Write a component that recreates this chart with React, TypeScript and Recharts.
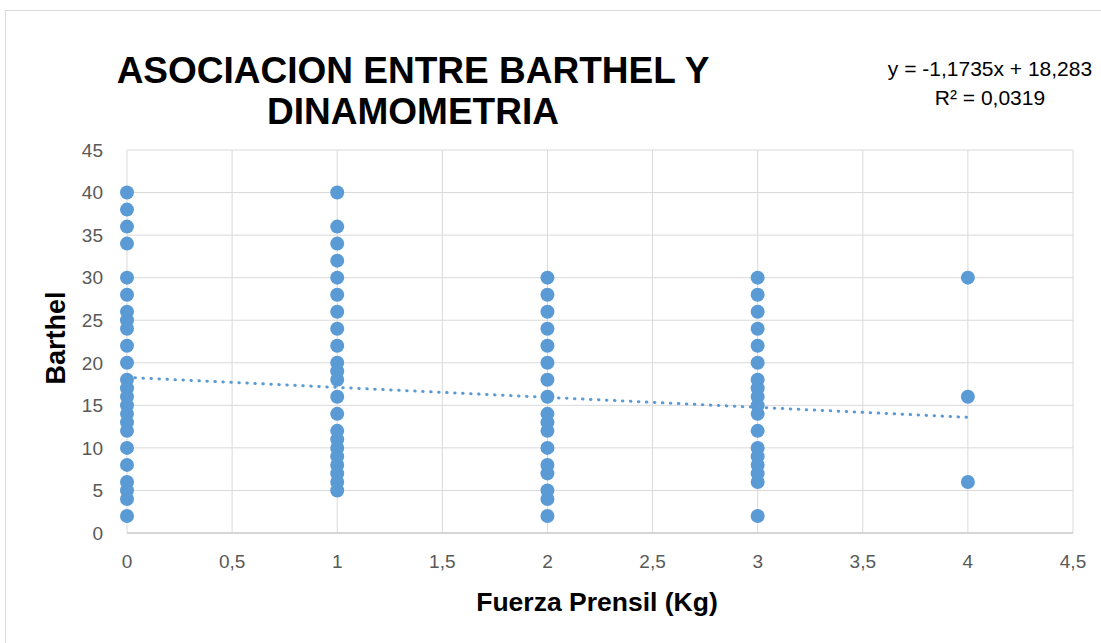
import React from 'react';
import { ScatterChart, Scatter, XAxis, YAxis, CartesianGrid } from 'recharts';

const xTicks = [0, 0.5, 1, 1.5, 2, 2.5, 3, 3.5, 4, 4.5];
const yTicks = [0, 5, 10, 15, 20, 25, 30, 35, 40, 45];

const barthelAt0 = [40, 38, 36, 34, 30, 28, 26, 25, 24, 22, 20, 18, 17, 16, 15, 14, 13, 12, 10, 8, 6, 5, 4, 2];
const barthelAt1 = [40, 36, 34, 32, 30, 28, 26, 24, 22, 20, 19, 18, 16, 14, 12, 11, 10, 9, 8, 7, 6, 5];
const barthelAt2 = [30, 28, 26, 24, 22, 20, 18, 16, 14, 13, 12, 10, 8, 7, 5, 4, 2];
const barthelAt3 = [30, 28, 26, 24, 22, 20, 18, 17, 16, 15, 14, 12, 10, 9, 8, 7, 6, 2];
const barthelAt4 = [30, 16, 6];

const slope = -1.1735;
const intercept = 18.283;
const trendX = [0, 4];

const points = [
  ...barthelAt0.map((y) => ({ x: 0, y })),
  ...barthelAt1.map((y) => ({ x: 1, y })),
  ...barthelAt2.map((y) => ({ x: 2, y })),
  ...barthelAt3.map((y) => ({ x: 3, y })),
  ...barthelAt4.map((y) => ({ x: 4, y })),
];
const trend = trendX.map((x) => ({ x, y: slope * x + intercept }));

const BLUE = '#5B9BD5';
const fmt = (v: number) => String(v).replace('.', ',');

const Dot = (props: any) => <circle cx={props.cx} cy={props.cy} r={7} fill={BLUE} />;
const NoDot = () => <g />;

export default function App() {
  return (
    <div style={{ position: 'absolute', left: 0, top: 0, width: 1101, height: 643, background: '#fff', overflow: 'hidden', fontFamily: '"Liberation Sans", Arial, sans-serif' }}>
      <div style={{ position: 'absolute', left: 5, top: 10, width: 1200, height: 800, borderLeft: '1px solid #d9d9d9', borderTop: '1px solid #d9d9d9' }} />
      <ScatterChart width={1101} height={643} margin={{ top: 150, right: 28, bottom: 70, left: 0 }} style={{ position: 'absolute', left: 0, top: 0 }}>
        <CartesianGrid stroke="#d9d9d9" strokeWidth={1} />
        <XAxis
          type="number"
          dataKey="x"
          domain={[0, 4.5]}
          ticks={xTicks}
          tickFormatter={fmt}
          interval={0}
          height={40}
          tickLine={false}
          tickSize={0}
          tickMargin={22}
          axisLine={{ stroke: '#bfbfbf' }}
          tick={{ fill: '#595959', fontSize: 19 }}
        />
        <YAxis
          type="number"
          dataKey="y"
          domain={[0, 45]}
          ticks={yTicks}
          interval={0}
          width={127}
          tickLine={false}
          tickSize={0}
          tickMargin={24}
          axisLine={false}
          tick={{ fill: '#595959', fontSize: 19 }}
        />
        <Scatter data={points} shape={Dot} isAnimationActive={false} />
        <Scatter
          data={trend}
          shape={NoDot}
          line={{ stroke: BLUE, strokeWidth: 3, strokeDasharray: '0.5 7.5', strokeLinecap: 'round' } as any}
          lineType="joint"
          isAnimationActive={false}
        />
      </ScatterChart>
      <div style={{ position: 'absolute', left: 113, width: 600, top: 50, textAlign: 'center', fontWeight: 'bold', fontSize: 37, lineHeight: '41px', color: '#000' }}>
        ASOCIACION ENTRE BARTHEL Y<br />DINAMOMETRIA
      </div>
      <div style={{ position: 'absolute', left: 860, width: 260, top: 54, textAlign: 'center', fontSize: 21, lineHeight: '29px', color: '#000' }}>
        y = -1,1735x + 18,283<br />R² = 0,0319
      </div>
      <div style={{ position: 'absolute', left: 397, width: 400, top: 587, textAlign: 'center', fontWeight: 'bold', fontSize: 26.5, color: '#000' }}>
        Fuerza Prensil (Kg)
      </div>
      <div style={{ position: 'absolute', left: 56, top: 338, width: 0, height: 0 }}>
        <div style={{ position: 'absolute', transform: 'translate(-50%, -50%) rotate(-90deg)', fontWeight: 'bold', fontSize: 27, whiteSpace: 'nowrap', color: '#000' }}>
          Barthel
        </div>
      </div>
    </div>
  );
}
